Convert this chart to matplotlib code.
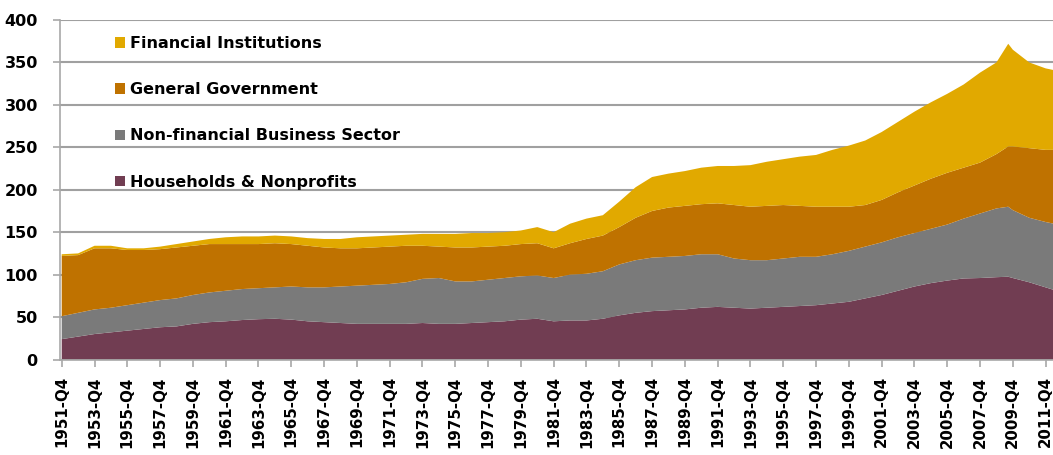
import matplotlib
matplotlib.use("Agg")
import matplotlib.pyplot as plt
from matplotlib.patches import Patch
import numpy as np

plt.rcParams['font.family'] = ['DejaVu Sans']

# x position: Q4 of each year (fractional for intermediate points)
x_pos = [1951, 1952, 1953, 1954, 1955, 1956, 1957, 1958, 1959, 1960,
         1961, 1962, 1963, 1964, 1965, 1966, 1967, 1968, 1969, 1970,
         1971, 1972, 1973, 1974, 1975, 1976, 1977, 1978, 1979, 1980,
         1981, 1982, 1983, 1984, 1985, 1986, 1987, 1988, 1989, 1990,
         1991, 1992, 1993, 1994, 1995, 1996, 1997, 1998, 1999, 2000,
         2001, 2002, 2003, 2004, 2005, 2006, 2007, 2008, 2008.72, 2009,
         2010, 2011, 2011.5]

households = [24, 27, 30, 32, 34, 36, 38, 39, 42, 44,
              45, 46.5, 47.5, 48, 47, 45, 44, 43, 42, 42,
              42, 42, 43, 42, 42, 43, 44, 45, 47, 48,
              45, 46, 46, 48, 52, 55, 57, 58, 59, 61,
              62, 61, 60, 61, 62, 63, 64, 66, 68, 72,
              76, 81, 86, 90, 93, 95.5, 96, 97, 97.5, 96,
              91, 85, 82]

nonfin_business = [27, 28, 29, 29, 30, 31, 32, 33, 34, 35,
                   36, 36.5, 36.5, 37, 39, 40, 41, 43, 45, 46,
                   47, 49, 52, 54, 50, 49, 50, 51, 51, 51,
                   51, 54, 55, 56, 60, 62, 63, 63, 63, 63,
                   62, 58, 57, 56, 57, 58, 57, 58, 60, 61,
                   62, 63, 63, 64, 66, 70.5, 76, 81, 82.5, 80,
                   76, 77, 78]

government = [71, 68, 72, 70, 65, 62, 60, 60, 58, 57,
              55, 53, 52, 52, 50, 49, 47, 45, 44, 44,
              44, 43, 39, 37, 40, 40, 39, 38, 38, 38,
              35, 37, 41, 42, 44, 50, 55, 58, 59, 59,
              60, 63, 63, 64, 63, 60, 59, 56, 52, 49,
              50, 53, 56, 59, 61, 60, 60, 64, 71, 75,
              82, 85, 87]

financial = [2, 2, 3, 3, 2, 2, 3, 4, 5, 6,
             8, 9, 9, 9, 9, 9, 10, 11, 13, 13,
             13, 13, 14, 15, 16, 17, 16, 16, 16, 19,
             19, 23, 24, 24, 30, 36, 40, 40, 41, 43,
             44, 46, 49, 52, 54, 58, 61, 67, 72, 76,
             80, 83, 87, 90, 93, 98, 106, 108, 121, 114,
             101, 96, 94]

series_names = ["Households & Nonprofits", "Non-financial Business Sector",
                "General Government", "Financial Institutions"]
colors = ["#713D52", "#7A7A7A", "#BF7200", "#E1A900"]

tick_years = list(range(1951, 2012, 2))
tick_labels = [f"{y}-Q4" for y in tick_years]
y_ticks = [0, 50, 100, 150, 200, 250, 300, 350, 400]

fs = 11.5
fig = plt.figure(figsize=(10.53, 4.55), dpi=100)
ax = fig.add_axes([60 / 1053, 95.5 / 455, 993 / 1053, 339.5 / 455])

ax.stackplot(x_pos, households, nonfin_business, government, financial,
             colors=colors, linewidth=0, zorder=2)

ax.set_xlim(1950.896, 2011.45)
ax.set_ylim(0, 400)
ax.set_yticks(y_ticks)
ax.set_yticklabels([str(v) for v in y_ticks], fontsize=fs, fontweight='bold')
ax.set_xticks(tick_years)
ax.set_xticklabels(tick_labels, rotation=90, fontsize=10.8, fontweight='bold')

ax.grid(axis='y', color='#A0A0A0', linewidth=1.5, zorder=0)
ax.set_axisbelow(True)
for s in ['top', 'right']:
    ax.spines[s].set_visible(False)
for s in ['left', 'bottom']:
    ax.spines[s].set_color('#A8A8A8')
    ax.spines[s].set_linewidth(1.2)
ax.tick_params(axis='both', colors='#A8A8A8', labelcolor='black', length=5, width=1.2)
ax.tick_params(axis='y', pad=11)
ax.tick_params(axis='x', pad=7)

handles = [Patch(facecolor=c, edgecolor='none') for c in colors][::-1]
labels = series_names[::-1]
leg = ax.legend(handles, labels, loc='upper left', bbox_to_anchor=(0.041, 0.995),
                frameon=False, handlelength=0.62, handleheight=0.62,
                handletextpad=0.3, labelspacing=1.95,
                prop={'size': fs, 'weight': 'bold'})

fig.savefig("out.png", dpi=100)
